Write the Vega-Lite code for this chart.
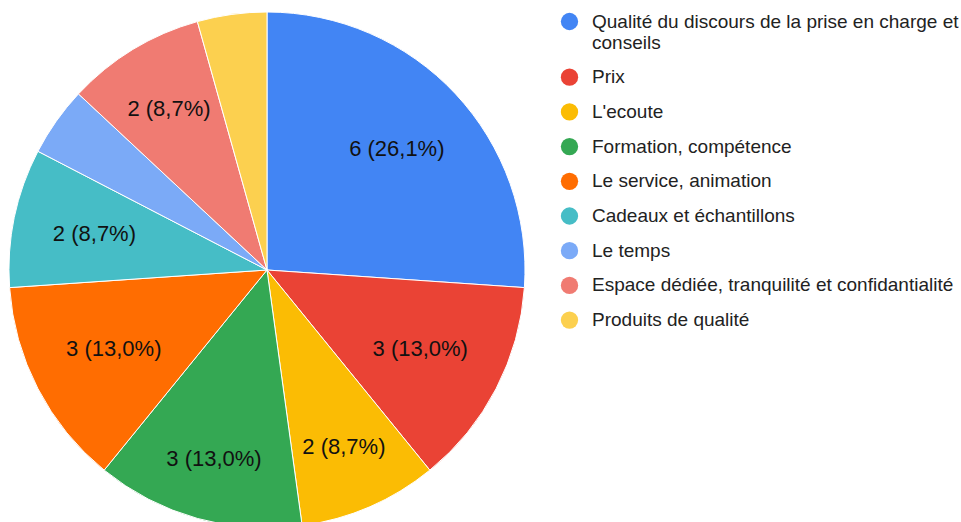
{
  "$schema": "https://vega.github.io/schema/vega-lite/v6.json",
  "width": 534,
  "height": 540,
  "autosize": "none",
  "padding": {"left": 0, "top": 0, "right": 427, "bottom": -18},
  "background": "white",
  "data": {
    "values": [
      {"idx": 1, "cat": "Qualité du discours de la prise en charge et conseils", "value": 6},
      {"idx": 2, "cat": "Prix", "value": 3},
      {"idx": 3, "cat": "L'ecoute", "value": 2},
      {"idx": 4, "cat": "Formation, compétence", "value": 3},
      {"idx": 5, "cat": "Le service, animation", "value": 3},
      {"idx": 6, "cat": "Cadeaux et échantillons", "value": 2},
      {"idx": 7, "cat": "Le temps", "value": 1},
      {"idx": 8, "cat": "Espace dédiée, tranquilité et confidantialité", "value": 2},
      {"idx": 9, "cat": "Produits de qualité", "value": 1}
    ]
  },
  "transform": [
    {"joinaggregate": [{"op": "sum", "field": "value", "as": "total"}]},
    {"window": [{"op": "sum", "field": "value", "as": "cum"}], "sort": [{"field": "idx", "order": "ascending"}], "frame": [null, 0]},
    {"calculate": "datum.value + ' (' + replace(format(datum.value / datum.total * 100, '.1f'), '.', ',') + '%)'", "as": "label"},
    {"calculate": "(datum.cum - datum.value / 2) / datum.total * 2 * PI", "as": "mid"},
    {"calculate": "220 - (5.3 * length(datum.label) * abs(sin(datum.mid)) + 11 * abs(cos(datum.mid)))", "as": "lr"}
  ],
  "layer": [
    {
      "mark": {"type": "arc", "radius": 258, "stroke": "white", "strokeWidth": 1},
      "encoding": {
        "theta": {"field": "value", "type": "quantitative", "stack": true},
        "order": {"field": "idx", "type": "quantitative"},
        "color": {
          "field": "cat",
          "type": "nominal",
          "scale": {
            "domain": ["Qualité du discours de la prise en charge et conseils", "Prix", "L'ecoute", "Formation, compétence", "Le service, animation", "Cadeaux et échantillons", "Le temps", "Espace dédiée, tranquilité et confidantialité", "Produits de qualité"],
            "range": ["#4285F4", "#EA4335", "#FBBC04", "#34A853", "#FF6D01", "#46BDC6", "#7BAAF7", "#F07B72", "#FCD04F"]
          },
          "legend": {
            "title": null,
            "orient": "none",
            "legendX": 560,
            "legendY": 12,
            "symbolType": "circle",
            "symbolSize": 300,
            "symbolStrokeWidth": 0,
            "symbolOpacity": 1,
            "labelFont": "Liberation Sans",
            "labelFontSize": 19,
            "labelColor": "#222222",
            "labelOffset": 13,
            "labelLimit": 400,
            "labelBaseline": "middle",
            "rowPadding": 14.7,
            "labelExpr": "datum.label == 'Qualité du discours de la prise en charge et conseils' ? ['Qualité du discours de la prise en charge et', 'conseils'] : datum.label",
            "encode": {
              "labels": {
                "update": {
                  "dy": {"signal": "datum.label == 'Qualité du discours de la prise en charge et conseils' ? 8 : 0"}
                }
              }
            }
          }
        }
      }
    },
    {
      "transform": [{"filter": "datum.value >= 2"}],
      "mark": {"type": "text", "font": "Liberation Sans", "fontSize": 22, "color": "#111111"},
      "encoding": {
        "theta": {"field": "mid", "type": "quantitative", "scale": null, "stack": null},
        "radius": {"field": "lr", "type": "quantitative", "scale": null},
        "text": {"field": "label", "type": "nominal"}
      }
    }
  ]
}
